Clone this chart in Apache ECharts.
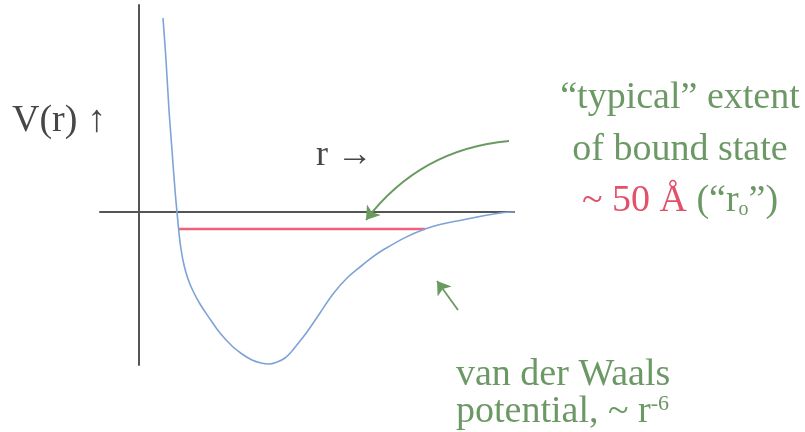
<!DOCTYPE html>
<html>
<head>
<meta charset="utf-8">
<script src="https://cdn.jsdelivr.net/npm/echarts@6/dist/echarts.min.js"></script>
<style>
  html, body { margin: 0; padding: 0; background: #ffffff; }
  #chart { width: 805px; height: 432px; }
</style>
</head>
<body>
<div id="chart"></div>
<script>
// Separation r (arbitrary units) and potential V(r) along the sketched curve
var rValues = [0.24, 0.27, 0.30, 0.33, 0.36, 0.38, 0.40, 0.42, 0.45, 0.49, 0.54, 0.61, 0.71, 0.81, 0.93, 1.03, 1.13, 1.22, 1.30, 1.38, 1.46, 1.53, 1.61, 1.68, 1.81, 1.94, 2.08, 2.21, 2.44, 2.86, 3.28, 3.61, 3.75];
var vValues = [1.94, 1.52, 1.02, 0.62, 0.22, 0.00, -0.21, -0.37, -0.53, -0.67, -0.79, -0.92, -1.07, -1.21, -1.34, -1.42, -1.48, -1.51, -1.52, -1.50, -1.46, -1.39, -1.29, -1.20, -1.01, -0.82, -0.66, -0.55, -0.38, -0.17, -0.07, -0.01, 0.00];

// Bound-state level: energy and its classical turning points
var boundLevel = -0.17;
var boundExtent = [0.40, 2.86];

// Annotation arrows (start point, end point) in r / V units
var extentArrow = [[3.70, 0.71], [2.27, -0.08]];
var vdwArrow = [[3.19, -0.98], [2.98, -0.69]];

var curveData = rValues.map(function (r, i) { return [r, vValues[i]]; });
var levelData = [[boundExtent[0], boundLevel], [boundExtent[1], boundLevel]];

var chart = echarts.init(document.getElementById('chart'), null, { renderer: 'canvas' });

var serif = '"Liberation Serif", "DejaVu Serif", serif';
var green = '#6c9865';
var red = '#e2506a';
var dark = '#474747';

chart.setOption({
  animation: false,
  backgroundColor: '#ffffff',
  grid: { left: 100, top: 5, width: 414, height: 360 },
  xAxis: {
    type: 'value', min: -0.39, max: 3.75,
    axisLine: { onZero: true, lineStyle: { color: '#555555', width: 2 } },
    axisTick: { show: false }, axisLabel: { show: false }, splitLine: { show: false }
  },
  yAxis: {
    type: 'value', min: -1.53, max: 2.07,
    axisLine: { show: true, onZero: true, lineStyle: { color: '#555555', width: 2 } },
    axisTick: { show: false }, axisLabel: { show: false }, splitLine: { show: false }
  },
  series: [
    {
      name: 'level', type: 'line', data: levelData, symbol: 'none',
      lineStyle: { color: '#f0607e', width: 2.5 }, z: 2
    },
    {
      name: 'V(r)', type: 'line', data: curveData, symbol: 'none', smooth: 0.4,
      lineStyle: { color: '#7ea3d6', width: 1.6 }, z: 3
    },
    {
      name: 'arrows', type: 'lines', coordinateSystem: 'cartesian2d',
      symbol: ['none', 'arrow'], symbolSize: 13,
      lineStyle: { color: '#6a9a60', width: 1.8, opacity: 1 },
      data: [
        { coords: extentArrow, lineStyle: { curveness: -0.22 } },
        { coords: vdwArrow, lineStyle: { curveness: 0 } }
      ], z: 4
    }
  ],
  graphic: [
    { type: 'text', left: 12, top: 102, style: { text: 'V(r) \u2191', font: '38px ' + serif, fill: dark } },
    { type: 'text', left: 316, top: 138, style: { text: 'r \u2192', font: '36px ' + serif, fill: dark } },
    { type: 'text', x: 680, y: 98, style: { text: '\u201ctypical\u201d extent', font: '38px ' + serif, fill: green, align: 'center', verticalAlign: 'middle' } },
    { type: 'text', x: 680, y: 150, style: { text: 'of bound state', font: '38px ' + serif, fill: green, align: 'center', verticalAlign: 'middle' } },
    { type: 'text', x: 680, y: 201, style: {
      text: '{r|~ 50 \u00c5 }{g|(\u201cr}{s|o}{g|\u201d)}', align: 'center', verticalAlign: 'middle',
      rich: {
        r: { font: '38px ' + serif, fill: red, color: red },
        g: { font: '38px ' + serif, fill: green, color: green },
        s: { font: '20px ' + serif, fill: green, color: green, verticalAlign: 'bottom' }
      } } },
    { type: 'text', left: 456, top: 356, style: { text: 'van der Waals', font: '38px ' + serif, fill: green } },
    { type: 'text', left: 456, top: 393, style: {
      text: '{g|potential, ~ r}{s|-6}',
      rich: {
        g: { font: '38px ' + serif, fill: green, color: green },
        s: { font: '22px ' + serif, fill: green, color: green, verticalAlign: 'top' }
      } } }
  ]
});
</script>
</body>
</html>
